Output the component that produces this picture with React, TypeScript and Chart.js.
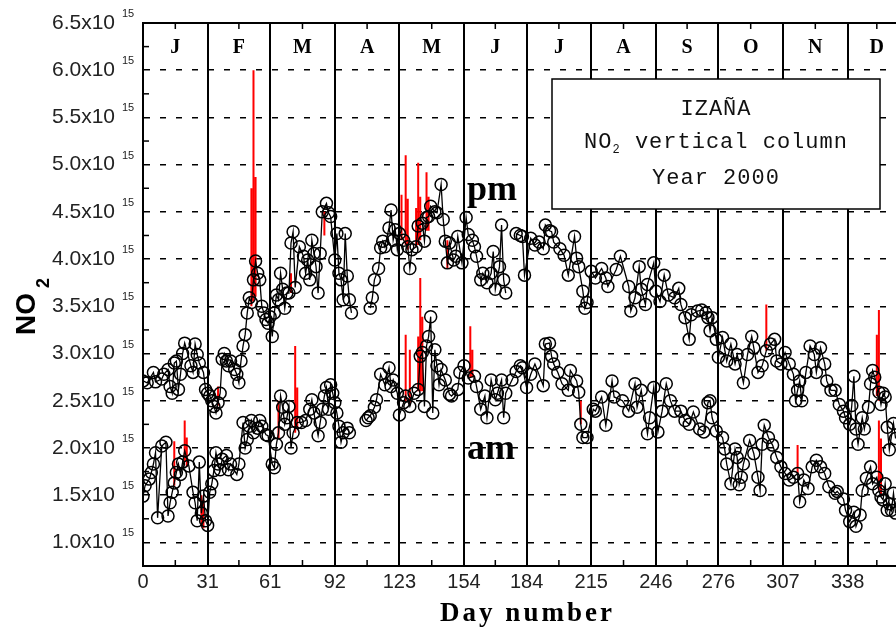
import React, { useEffect, useRef } from "react";
import { Chart, registerables } from "chart.js";

Chart.register(...registerables);

// ---------------- data ----------------
const MONTHS = ["J", "F", "M", "A", "M", "J", "J", "A", "S", "O", "N", "D"];
const MONTH_TICKS = [0, 31, 61, 92, 123, 154, 184, 215, 246, 276, 307, 338];
const YEAR_END = 366;
const Y_TICKS = [1.0, 1.5, 2.0, 2.5, 3.0, 3.5, 4.0, 4.5, 5.0, 5.5, 6.0, 6.5];

const PM_DAYS = [0, 2, 5, 6, 9, 10, 12, 13, 14, 15, 16, 17, 18, 19, 20, 23, 24, 25, 26, 27, 29, 30, 31, 32, 33, 34, 35, 36, 37, 38, 39, 40, 41, 42, 44, 45, 46, 47, 48, 49, 50, 51, 52, 53, 54, 55, 56, 57, 58, 59, 60, 61, 62, 63, 64, 65, 66, 67, 68, 69, 70, 71, 72, 73, 75, 77, 78, 79, 80, 81, 82, 83, 84, 85, 86, 88, 89, 90, 92, 93, 94, 95, 96, 97, 98, 99, 100, 109, 110, 111, 113, 114, 115, 116, 118, 119, 120, 121, 122, 123, 125, 127, 128, 129, 131, 132, 134, 135, 136, 137, 138, 140, 141, 143, 144, 145, 146, 147, 149, 150, 151, 153, 155, 156, 158, 159, 160, 162, 163, 165, 167, 168, 169, 171, 172, 173, 174, 179, 181, 182, 183, 186, 188, 190, 192, 193, 195, 196, 197, 200, 202, 204, 207, 208, 209, 211, 212, 213, 215, 217, 220, 222, 223, 227, 229, 233, 234, 236, 238, 239, 241, 242, 245, 246, 248, 250, 252, 255, 257, 258, 260, 262, 263, 266, 268, 270, 271, 272, 273, 275, 276, 278, 280, 282, 284, 285, 288, 290, 292, 293, 295, 297, 299, 301, 303, 304, 306, 308, 310, 312, 313, 314, 315, 316, 318, 320, 322, 323, 325, 327, 328, 330, 332, 334, 336, 337, 339, 340, 341, 342, 343, 345, 346, 348, 349, 350, 351, 353, 354, 355, 356, 357, 358, 360, 361];
const PM_VALUES = [2.71, 2.69, 2.80, 2.70, 2.73, 2.78, 2.83, 2.65, 2.58, 2.90, 2.92, 2.62, 2.78, 3.00, 3.11, 2.87, 2.80, 3.10, 2.99, 2.90, 2.80, 2.62, 2.58, 2.55, 2.50, 2.44, 2.37, 2.48, 2.58, 2.94, 3.00, 2.92, 2.87, 2.92, 2.83, 2.78, 2.69, 2.92, 3.08, 3.20, 3.43, 3.59, 3.54, 3.78, 3.98, 3.85, 3.78, 3.50, 3.43, 3.36, 3.32, 3.39, 3.18, 3.43, 3.62, 3.57, 3.85, 3.68, 3.48, 3.64, 3.64, 4.17, 4.29, 3.70, 4.13, 4.03, 3.85, 3.99, 3.78, 4.20, 4.06, 3.92, 3.64, 4.06, 4.50, 4.59, 4.49, 4.45, 3.99, 4.27, 3.85, 3.78, 3.57, 4.27, 3.82, 3.57, 3.43, 3.48, 3.59, 3.78, 3.90, 4.12, 4.19, 4.13, 4.33, 4.52, 4.20, 4.31, 4.10, 4.27, 4.20, 4.13, 3.90, 4.10, 4.13, 4.35, 4.38, 4.19, 4.44, 4.45, 4.56, 4.50, 4.49, 4.79, 4.42, 4.19, 3.96, 4.17, 3.99, 4.03, 4.24, 3.96, 4.44, 4.26, 4.20, 4.13, 4.03, 3.78, 3.85, 3.75, 3.85, 4.08, 3.68, 3.92, 4.36, 3.78, 3.64, 4.27, 4.25, 4.24, 3.83, 4.22, 4.15, 4.18, 4.11, 4.36, 4.30, 4.29, 4.18, 4.11, 4.04, 3.83, 4.24, 4.01, 3.92, 3.66, 3.48, 3.54, 3.87, 3.80, 3.90, 3.80, 3.71, 3.89, 4.03, 3.71, 3.45, 3.59, 3.92, 3.68, 3.52, 3.73, 3.96, 3.66, 3.55, 3.83, 3.62, 3.59, 3.69, 3.52, 3.38, 3.15, 3.41, 3.45, 3.46, 3.43, 3.38, 3.24, 3.38, 3.15, 2.96, 3.17, 2.92, 3.10, 2.89, 2.99, 2.69, 2.99, 3.18, 3.06, 2.80, 2.87, 3.03, 3.10, 3.15, 2.92, 2.89, 3.01, 2.89, 2.78, 2.50, 2.61, 2.71, 2.50, 2.80, 3.08, 2.99, 2.80, 3.06, 2.89, 2.71, 2.61, 2.61, 2.46, 2.39, 2.32, 2.25, 2.45, 2.76, 2.20, 2.04, 2.32, 2.20, 2.43, 2.68, 2.82, 2.75, 2.59, 2.46, 2.58, 2.54, 2.22, 1.98, 2.26, 2.10];

const AM_DAYS = [0, 1, 3, 4, 5, 6, 7, 9, 11, 12, 13, 14, 15, 16, 17, 18, 19, 20, 22, 24, 25, 26, 27, 28, 29, 30, 31, 32, 33, 34, 35, 36, 37, 38, 40, 41, 42, 45, 46, 48, 49, 50, 51, 52, 53, 55, 56, 57, 59, 60, 62, 63, 64, 65, 66, 67, 68, 69, 70, 71, 72, 74, 76, 78, 80, 81, 82, 84, 85, 86, 87, 88, 89, 90, 91, 92, 93, 94, 95, 96, 98, 99, 107, 108, 109, 111, 112, 114, 116, 118, 119, 120, 122, 123, 125, 126, 128, 130, 132, 133, 134, 135, 136, 137, 138, 139, 140, 141, 142, 143, 145, 147, 148, 151, 152, 154, 156, 159, 160, 162, 164, 165, 167, 169, 170, 172, 173, 174, 177, 179, 181, 182, 184, 186, 188, 192, 193, 195, 196, 197, 199, 201, 204, 205, 208, 209, 210, 211, 213, 216, 217, 220, 222, 225, 226, 230, 233, 236, 237, 239, 242, 243, 245, 247, 249, 251, 253, 255, 258, 260, 262, 264, 267, 269, 271, 272, 273, 275, 278, 279, 280, 282, 284, 285, 286, 287, 288, 291, 293, 295, 296, 297, 298, 300, 302, 304, 306, 308, 310, 312, 314, 315, 317, 319, 321, 323, 325, 327, 329, 332, 333, 336, 337, 339, 341, 342, 344, 345, 347, 349, 350, 352, 353, 354, 355, 356, 357, 358, 359, 360, 361];
const AM_VALUES = [1.49, 1.60, 1.67, 1.74, 1.83, 1.95, 1.26, 2.02, 2.06, 1.28, 1.42, 1.53, 1.63, 1.74, 1.83, 1.72, 1.85, 1.97, 1.81, 1.53, 1.42, 1.23, 1.85, 1.31, 1.49, 1.23, 1.18, 1.53, 1.62, 1.76, 1.95, 1.83, 1.77, 1.88, 1.92, 1.77, 1.83, 1.72, 1.83, 2.27, 2.00, 2.09, 2.23, 2.29, 2.16, 2.21, 2.29, 2.23, 2.14, 2.13, 1.83, 1.79, 2.04, 2.16, 2.55, 2.43, 2.25, 2.32, 2.44, 2.00, 2.16, 2.27, 2.27, 2.29, 2.41, 2.51, 2.37, 2.13, 2.27, 2.41, 2.55, 2.64, 2.41, 2.67, 2.58, 2.48, 2.37, 2.23, 2.06, 2.16, 2.21, 2.16, 2.29, 2.32, 2.34, 2.43, 2.51, 2.78, 2.67, 2.85, 2.65, 2.72, 2.58, 2.35, 2.48, 2.55, 2.44, 2.58, 2.62, 2.97, 3.01, 2.44, 3.08, 3.18, 3.39, 2.37, 3.04, 2.87, 2.67, 2.83, 2.72, 2.57, 2.55, 2.62, 2.80, 2.87, 2.74, 2.76, 2.65, 2.41, 2.55, 2.32, 2.72, 2.51, 2.58, 2.72, 2.32, 2.58, 2.72, 2.81, 2.87, 2.85, 2.64, 2.78, 2.89, 2.66, 3.10, 3.11, 2.97, 2.89, 2.80, 2.68, 2.61, 2.82, 2.71, 2.59, 2.25, 2.11, 2.11, 2.41, 2.39, 2.54, 2.24, 2.71, 2.54, 2.50, 2.39, 2.68, 2.43, 2.61, 2.15, 2.32, 2.64, 2.17, 2.39, 2.68, 2.50, 2.39, 2.39, 2.29, 2.25, 2.38, 2.20, 2.17, 2.48, 2.50, 2.32, 2.18, 2.11, 1.99, 1.83, 1.62, 1.99, 1.90, 1.61, 1.69, 1.83, 2.08, 1.94, 1.69, 1.55, 2.04, 2.24, 2.11, 2.03, 1.90, 1.80, 1.73, 1.66, 1.69, 1.73, 1.43, 1.66, 1.57, 1.80, 1.87, 1.80, 1.73, 1.59, 1.52, 1.54, 1.46, 1.34, 1.22, 1.32, 1.17, 1.29, 1.55, 1.68, 1.80, 1.62, 1.69, 1.55, 1.48, 1.45, 1.62, 1.34, 1.41, 1.34, 1.52, 1.31];

// red vertical excursions (day, low, high)
const SPIKE_DAYS = [36, 52, 53, 54, 71, 87, 124, 126, 127, 131, 132, 133, 136, 137, 146, 299, 352, 353, 15, 20, 21, 28, 29, 65, 73, 74, 126, 128, 132, 133, 134, 157, 158, 210, 314, 353, 354];
const SPIKE_LOW = [2.45, 3.50, 3.55, 3.60, 3.64, 4.25, 4.20, 4.15, 4.10, 4.13, 4.15, 4.20, 4.30, 4.30, 3.90, 3.03, 2.55, 2.50, 1.60, 1.85, 1.80, 1.20, 1.15, 2.10, 2.16, 2.20, 2.50, 2.45, 2.60, 2.60, 2.60, 2.75, 2.75, 2.25, 1.73, 1.55, 1.50];
const SPIKE_HIGH = [2.65, 4.75, 6.00, 4.87, 3.85, 4.50, 4.68, 5.10, 4.64, 4.54, 5.02, 4.66, 4.92, 4.66, 4.20, 3.52, 3.20, 3.46, 2.07, 2.29, 2.11, 1.50, 1.45, 2.50, 3.08, 2.64, 3.20, 3.04, 3.18, 3.80, 3.39, 3.29, 3.04, 2.50, 2.03, 2.29, 2.10];

// ---------------- helpers ----------------
function series(days: number[], vals: number[]) {
  const out: { x: number; y: number | null }[] = [];
  for (let i = 0; i < days.length; i++) {
    if (i > 0 && days[i] - days[i - 1] > 4) out.push({ x: (days[i] + days[i - 1]) / 2, y: null });
    out.push({ x: days[i], y: vals[i] });
  }
  return out;
}

function spikes() {
  const out: { x: number; y: number | null }[] = [];
  for (let i = 0; i < SPIKE_DAYS.length; i++) {
    out.push({ x: SPIKE_DAYS[i], y: SPIKE_LOW[i] });
    out.push({ x: SPIKE_DAYS[i], y: SPIKE_HIGH[i] });
    out.push({ x: SPIKE_DAYS[i], y: null });
  }
  return out;
}

const SANS = '"Liberation Sans", Arial, sans-serif';
const SERIF = '"Liberation Serif", "Times New Roman", serif';
const MONO = '"Liberation Mono", "Courier New", monospace';

const decor = {
  id: "decor",
  afterDraw(chart: any) {
    const { ctx, chartArea: a } = chart;
    const xs = chart.scales.x;
    const ys = chart.scales.y;
    ctx.save();
    ctx.strokeStyle = "#000";
    ctx.fillStyle = "#000";

    // frame top/right
    ctx.lineWidth = 2;
    ctx.beginPath();
    ctx.moveTo(a.left - 1, a.top);
    ctx.lineTo(a.right, a.top);
    ctx.lineTo(a.right, a.bottom);
    ctx.stroke();

    // minor ticks on y axis (inward)
    ctx.lineWidth = 1.5;
    for (let i = 0; i < Y_TICKS.length - 1; i++) {
      const py = ys.getPixelForValue((Y_TICKS[i] + Y_TICKS[i + 1]) / 2);
      ctx.beginPath();
      ctx.moveTo(a.left, py);
      ctx.lineTo(a.left + 6, py);
      ctx.stroke();
    }

    // mid-month ticks and month letters
    const bounds = [...MONTH_TICKS, YEAR_END];
    ctx.font = `bold 20px ${SERIF}`;
    ctx.textAlign = "center";
    ctx.textBaseline = "middle";
    for (let i = 0; i < MONTHS.length; i++) {
      const px = xs.getPixelForValue((bounds[i] + bounds[i + 1]) / 2);
      ctx.beginPath();
      ctx.moveTo(px, a.top);
      ctx.lineTo(px, a.top + 6);
      ctx.moveTo(px, a.bottom);
      ctx.lineTo(px, a.bottom - 6);
      ctx.stroke();
      ctx.fillText(MONTHS[i], px, a.top + 25);
    }

    // superscript exponents on y labels
    ctx.font = `11px ${SANS}`;
    ctx.fillStyle = "#222";
    ctx.textAlign = "left";
    for (const v of Y_TICKS) {
      ctx.fillText("15", a.left - 21, ys.getPixelForValue(v) - 9);
    }

    // y title NO2
    ctx.fillStyle = "#000";
    ctx.save();
    ctx.translate(a.left - 108, a.top + 312);
    ctx.rotate(-Math.PI / 2);
    ctx.textAlign = "left";
    ctx.textBaseline = "alphabetic";
    ctx.font = `bold 28px ${SANS}`;
    ctx.fillText("NO", 0, 0);
    const wNO = ctx.measureText("NO").width;
    ctx.font = `bold 18px ${SANS}`;
    ctx.fillText("2", wNO + 5, 14);
    ctx.restore();

    // x title
    ctx.save();
    ctx.font = `bold 27px ${SERIF}`;
    (ctx as any).letterSpacing = "3px";
    ctx.textAlign = "left";
    ctx.textBaseline = "alphabetic";
    const title = "Day number";
    const tw = ctx.measureText(title).width;
    ctx.fillText(title, (a.left + a.right) / 2 - tw / 2 + 3, 621);
    ctx.restore();

    // pm / am labels
    ctx.font = `bold 36px ${SERIF}`;
    ctx.textAlign = "left";
    ctx.textBaseline = "alphabetic";
    ctx.fillText("pm", xs.getPixelForValue(155.4), ys.getPixelForValue(4.625));
    ctx.fillText("am", xs.getPixelForValue(155.4), ys.getPixelForValue(1.88));

    // info box
    const bx1 = 552, by1 = 79, bx2 = 880, by2 = 209;
    ctx.fillStyle = "#fff";
    ctx.fillRect(bx1, by1, bx2 - bx1, by2 - by1);
    ctx.lineWidth = 1.5;
    ctx.strokeStyle = "#000";
    ctx.strokeRect(bx1, by1, bx2 - bx1, by2 - by1);
    ctx.fillStyle = "#111";
    const cx = (bx1 + bx2) / 2;
    ctx.save();
    (ctx as any).letterSpacing = "1px";
    ctx.font = `22px ${MONO}`;
    ctx.textAlign = "center";
    ctx.fillText("IZAÑA", cx, 115);
    ctx.fillText("Year 2000", cx, 184);
    // NO2 vertical column with subscript
    const p1 = "NO";
    const p3 = " vertical column";
    ctx.font = `22px ${MONO}`;
    const w1 = ctx.measureText(p1).width;
    const w3 = ctx.measureText(p3).width;
    ctx.font = `12px ${MONO}`;
    const w2 = ctx.measureText("2").width;
    const start = cx - (w1 + w2 + w3) / 2;
    ctx.textAlign = "left";
    ctx.font = `22px ${MONO}`;
    ctx.fillText(p1, start, 148);
    ctx.fillText(p3, start + w1 + w2, 148);
    ctx.font = `12px ${MONO}`;
    ctx.fillText("2", start + w1, 153);
    ctx.restore();

    ctx.restore();
  },
};

export default function App() {
  const ref = useRef<HTMLCanvasElement | null>(null);

  useEffect(() => {
    if (!ref.current) return;
    const chart = new Chart(ref.current, {
      type: "line",
      data: {
        datasets: [
          {
            label: "pm",
            data: series(PM_DAYS, PM_VALUES),
            borderColor: "#000",
            borderWidth: 1.3,
            pointRadius: 6,
            pointBorderWidth: 1.5,
            pointBorderColor: "#000",
            pointBackgroundColor: "rgba(255,255,255,0)",
            spanGaps: false,
            tension: 0,
            order: 0,
          },
          {
            label: "am",
            data: series(AM_DAYS, AM_VALUES),
            borderColor: "#000",
            borderWidth: 1.3,
            pointRadius: 6,
            pointBorderWidth: 1.5,
            pointBorderColor: "#000",
            pointBackgroundColor: "rgba(255,255,255,0)",
            spanGaps: false,
            tension: 0,
            order: 0,
          },
          {
            label: "spikes",
            data: spikes(),
            borderColor: "#ff0000",
            borderWidth: 2,
            pointRadius: 0,
            spanGaps: false,
            tension: 0,
            order: 1,
          },
        ],
      },
      options: {
        animation: false,
        responsive: false,
        devicePixelRatio: 1,
        layout: { autoPadding: false, padding: { top: 23, right: 4, left: 0, bottom: 0 } },
        plugins: { legend: { display: false }, tooltip: { enabled: false } },
        scales: {
          x: {
            type: "linear",
            min: 0,
            max: YEAR_END,
            afterBuildTicks: (s: any) => {
              s.ticks = MONTH_TICKS.map((v) => ({ value: v }));
            },
            afterFit: (s: any) => {
              s.height = 62;
            },
            ticks: {
              autoSkip: false,
              maxRotation: 0,
              color: "#222",
              padding: 4,
              font: { family: SANS, size: 20 },
              callback: (v: any) => String(v),
            },
            grid: { color: "#000", lineWidth: 2, drawTicks: false },
            border: { color: "#000", width: 2 },
          },
          y: {
            type: "linear",
            min: 0.75,
            max: 6.5,
            afterBuildTicks: (s: any) => {
              s.ticks = Y_TICKS.map((v) => ({ value: v }));
            },
            afterFit: (s: any) => {
              s.width = 143;
              s.paddingTop = 0;
              s.paddingBottom = 0;
            },
            ticks: {
              color: "#222",
              padding: 28,
              font: { family: SANS, size: 21 },
              callback: (v: any) => Number(v).toFixed(1) + "x10",
            },
            grid: {
              color: (c: any) => (c.tick && c.tick.value >= 6.5 ? "rgba(0,0,0,0)" : "#000"),
              lineWidth: 1.5,
              drawTicks: false,
            },
            border: { color: "#000", width: 2, dash: [6, 10] },
          },
        },
      },
      plugins: [decor],
    } as any);
    return () => chart.destroy();
  }, []);

  return (
    <div
      style={{
        position: "fixed",
        left: 0,
        top: 0,
        width: 896,
        height: 628,
        overflow: "hidden",
        background: "#fff",
      }}
    >
      <canvas ref={ref} width={910} height={628} style={{ display: "block", width: 910, height: 628 }} />
    </div>
  );
}
